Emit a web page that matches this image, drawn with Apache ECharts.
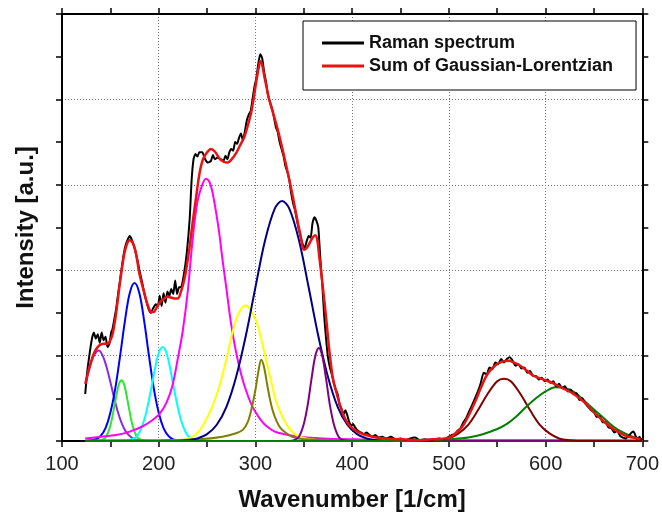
<!DOCTYPE html>
<html>
<head>
<meta charset="utf-8">
<title>Raman spectrum deconvolution</title>
<script src="https://cdn.jsdelivr.net/npm/echarts@6/dist/echarts.min.js"></script>
<style>
  html, body { margin: 0; padding: 0; background: #fff; }
  #chart { width: 662px; height: 517px; }
</style>
</head>
<body>
<div id="chart"></div>
<script>
// Axis ranges and tick layout (wavenumber in 1/cm, intensity in arbitrary units)
const xMin = 100, xMax = 700, xStep = 100;
const yMin = 0, yMax = 5, yStep = 1;

// Measured Raman spectrum [wavenumber, intensity]
const ramanSpectrum = [
  [124,0.55],[126,0.80],[128,0.98],[131,1.20],[133,1.27],[135,1.20],[137,1.25],[139,1.15],
  [141,1.27],[143,1.18],[145,1.22],[147,1.10],[149,1.14],[151,1.28],[152,1.30],[154,1.42],
  [156,1.55],[158,1.72],[160,1.88],[162,2.05],[164,2.20],[166,2.30],[168,2.36],[170,2.40],
  [172,2.36],[175,2.26],[178,2.12],[180,2.00],[183,1.85],[185,1.74],[188,1.60],[190,1.53],
  [192,1.50],[194,1.55],[197,1.60],[199,1.57],[201,1.70],[203,1.58],[205,1.73],[207,1.62],
  [209,1.75],[211,1.70],[213,1.78],[215,1.72],[217,1.88],[219,1.72],[221,1.80],[223,1.80],
  [226,1.95],[229,2.20],[232,2.60],[234,3.05],[236,3.30],[238,3.36],[240,3.33],[242,3.38],
  [245,3.38],[248,3.30],[251,3.26],[254,3.28],[256,3.35],[258,3.30],[261,3.32],[264,3.30],
  [267,3.28],[269,3.34],[271,3.30],[273,3.38],[275,3.42],[277,3.40],[279,3.50],[281,3.48],
  [283,3.55],[285,3.60],[287,3.52],[289,3.62],[291,3.75],[293,3.82],[295,3.86],[297,4.00],
  [299,4.15],[301,4.25],[303,4.42],[305,4.53],[307,4.48],[309,4.32],[311,4.20],[313,4.05],
  [315,3.97],[317,3.90],[319,3.80],[321,3.68],[323,3.62],[325,3.50],[327,3.42],[329,3.34],
  [331,3.22],[333,3.15],[335,3.06],[337,2.90],[339,2.78],[341,2.70],[343,2.58],[345,2.47],
  [347,2.38],[349,2.30],[351,2.26],[353,2.34],[355,2.40],[357,2.38],[359,2.55],[361,2.62],
  [363,2.58],[365,2.50],[367,2.15],[369,1.85],[371,1.48],[373,1.20],[375,0.98],[377,0.86],
  [379,0.78],[381,0.68],[383,0.60],[385,0.55],[387,0.42],[389,0.38],[391,0.31],[393,0.36],
  [395,0.30],[397,0.22],[399,0.18],[401,0.20],[403,0.16],[406,0.12],[409,0.10],[412,0.08],
  [415,0.10],[418,0.07],[421,0.05],[424,0.07],[427,0.04],[431,0.05],[435,0.03],[440,0.05],
  [445,0.02],[450,0.03],[455,0.01],[460,0.03],[465,0.04],[470,0.01],[475,0.02],[480,0.01],
  [485,0.02],[490,0.03],[495,0.02],[500,0.05],[503,0.07],[506,0.08],[509,0.12],[512,0.15],
  [515,0.22],[518,0.27],[521,0.35],[524,0.42],[527,0.50],[530,0.58],[533,0.68],[536,0.80],
  [539,0.78],[542,0.86],[545,0.84],[548,0.92],[551,0.90],[554,0.96],[557,0.92],[560,0.96],
  [563,0.98],[566,0.94],[569,0.88],[572,0.90],[575,0.85],[578,0.86],[581,0.80],[584,0.82],
  [587,0.76],[590,0.76],[593,0.72],[596,0.74],[599,0.70],[602,0.72],[605,0.68],[608,0.70],
  [611,0.64],[614,0.67],[617,0.62],[620,0.64],[623,0.58],[626,0.60],[629,0.55],[632,0.56],
  [635,0.48],[638,0.50],[641,0.44],[644,0.40],[647,0.36],[650,0.34],[653,0.28],[656,0.29],
  [659,0.22],[662,0.22],[665,0.16],[668,0.15],[671,0.10],[674,0.12],[677,0.06],[680,0.04],
  [683,0.03],[686,0.06],[689,0.10],[691,0.11],[693,0.06],[695,0.02],[697,0.05],[699,0.01]
];

// Fitted envelope: sum of the Gaussian-Lorentzian components
const fitSum = [
  [124.3,0.67],[128,0.85],[131.8,0.99],[135,1.07],[138.7,1.12],[143,1.14],[147.3,1.14],
  [150,1.18],[152.5,1.26],[156,1.50],[159.4,1.81],[162,2.02],[164.6,2.20],[167,2.30],
  [169.7,2.35],[172,2.34],[174.9,2.27],[177.5,2.13],[180,1.96],[183.5,1.80],[187,1.65],
  [190,1.55],[192.1,1.51],[194.5,1.51],[197.3,1.55],[201,1.62],[205.9,1.67],[209,1.69],
  [212.8,1.68],[216,1.67],[219.6,1.67],[223,1.75],[226.5,1.89],[229,2.05],[231.7,2.25],
  [235,2.55],[238.6,2.85],[242,3.12],[245.5,3.29],[250,3.38],[254.1,3.42],[258,3.39],
  [262.7,3.31],[267,3.27],[271.3,3.26],[275.5,3.30],[280,3.37],[284,3.46],[288.5,3.56],
  [292,3.69],[295.5,3.84],[298,4.00],[300.6,4.19],[303,4.35],[305.1,4.45],[307,4.40],
  [309.2,4.27],[311.5,4.14],[314.4,3.99],[318,3.85],[321.3,3.72],[325,3.56],[328.1,3.41],
  [331.5,3.24],[335,3.06],[338.5,2.87],[341.9,2.67],[346,2.44],[350.5,2.24],[353,2.26],
  [355.7,2.31],[359,2.38],[361.9,2.41],[364,2.35],[366,2.16],[368.5,1.92],[371.2,1.65],
  [373.8,1.36],[376.3,1.07],[379.8,0.75],[382.5,0.62],[384.9,0.52],[388,0.40],[391.8,0.28],
  [396,0.20],[400.4,0.15],[407,0.10],[414.3,0.07],[425,0.04],[435,0.03],[450,0.02],[469,0.01],
  [485,0.02],[500.3,0.04],[507,0.09],[514,0.17],[521,0.31],[527.9,0.48],[533,0.62],
  [538.2,0.75],[543,0.83],[548.6,0.89],[555,0.93],[562.3,0.94],[567,0.92],[572.6,0.89],
  [580,0.83],[586.4,0.77],[593,0.74],[600.2,0.71],[607,0.68],[614,0.64],[621,0.60],
  [627.7,0.56],[635,0.50],[641.5,0.44],[648,0.36],[655.3,0.28],[662,0.21],[669,0.15],
  [676,0.10],[682.9,0.06],[690,0.04],[698.3,0.02]
];

// Individual fitted bands
const band138 = [
  [124,0.67],[128,0.83],[132,0.98],[136,1.05],[138,1.06],[142,1.00],[146,0.87],[150,0.69],
  [154,0.50],[158,0.33],[162,0.20],[166,0.11],[170,0.06],[175,0.02],[180,0.01],[190,0],[700,0]
];
const band162 = [
  [124,0],[140,0.01],[145,0.04],[150,0.18],[154,0.40],[157,0.58],[159,0.67],[161.5,0.71],
  [164,0.67],[166,0.58],[169,0.40],[173,0.18],[178,0.04],[183,0.01],[190,0],[700,0]
];
const band175 = [
  [124,0],[135,0.02],[140,0.06],[145,0.15],[150,0.33],[155,0.61],[160,0.99],[165,1.40],
  [170,1.73],[175,1.85],[180,1.73],[185,1.40],[190,0.99],[195,0.61],[200,0.33],[205,0.15],
  [210,0.06],[215,0.02],[222,0],[700,0]
];
const band204 = [
  [124,0],[168,0.01],[172,0.02],[176,0.04],[180,0.10],[184,0.21],[188,0.38],[192,0.60],
  [196,0.84],[200,1.03],[204,1.10],[208,1.03],[212,0.84],[216,0.60],[220,0.38],[224,0.21],
  [228,0.10],[232,0.04],[236,0.02],[242,0],[700,0]
];
const band249 = [
  [124,0.03],[140,0.05],[156,0.07],[170,0.11],[183,0.17],[193,0.24],[201,0.32],[208,0.45],
  [214,0.64],[220,0.98],[225,1.30],[230,1.75],[235,2.35],[240,2.80],[245,3.00],[249,3.07],
  [253,3.02],[257,2.83],[262,2.48],[266,2.12],[270,1.78],[275,1.36],[280,1.04],[285,0.79],
  [290,0.60],[295,0.45],[300,0.34],[306,0.24],[312,0.17],[320,0.11],[330,0.08],[345,0.05],
  [370,0.03],[400,0.02],[450,0.01],[550,0.01],[700,0.005]
];
const band290 = [
  [124,0],[225,0.01],[235,0.05],[242,0.12],[249,0.25],[256,0.42],[263,0.65],[270,0.96],
  [276,1.26],[281,1.45],[286,1.56],[290,1.59],[294,1.55],[297,1.49],[301,1.40],[306,1.19],
  [311,0.95],[316,0.71],[321,0.48],[326,0.33],[332,0.20],[337,0.12],[342,0.07],[352,0.03],
  [365,0.01],[380,0],[700,0]
];
const band306 = [
  [124,0.005],[200,0.01],[242,0.02],[266,0.05],[280,0.09],[287,0.13],[292,0.22],[296,0.38],
  [300,0.60],[303,0.81],[306,0.95],[309,0.86],[312,0.67],[315,0.49],[318,0.35],[322,0.23],
  [326,0.15],[332,0.09],[338,0.05],[350,0.02],[400,0.01],[700,0.005]
];
const band328 = [
  [124,0],[220,0],[230,0.01],[240,0.03],[250,0.08],[260,0.19],[270,0.40],[280,0.75],
  [290,1.23],[300,1.80],[310,2.35],[320,2.72],[327.5,2.81],[335,2.72],[345,2.35],[355,1.80],
  [365,1.23],[375,0.75],[385,0.40],[395,0.19],[405,0.08],[415,0.03],[425,0.01],[440,0],[700,0]
];
const band366 = [
  [124,0],[335,0],[340,0.01],[345,0.05],[350,0.20],[354,0.42],[358,0.73],[362,1.00],
  [365.5,1.09],[369,1.00],[373,0.73],[377,0.42],[381,0.20],[386,0.05],[391,0.01],[400,0],[700,0]
];
const band557 = [
  [124,0],[480,0],[490,0.01],[500,0.03],[510,0.09],[520,0.19],[530,0.36],[540,0.55],
  [550,0.70],[557,0.73],[564,0.70],[574,0.55],[584,0.36],[594,0.19],[604,0.09],[614,0.03],
  [624,0.01],[640,0],[700,0]
];
const band612 = [
  [124,0],[460,0],[470,0.01],[490,0.015],[500,0.02],[520,0.04],[535,0.08],[550,0.14],
  [560,0.20],[570,0.29],[580,0.40],[590,0.50],[600,0.58],[610,0.63],[620,0.62],[630,0.57],
  [640,0.47],[650,0.37],[660,0.27],[670,0.17],[680,0.10],[690,0.05],[700,0.02]
];

const bandSeries = [
  { data: band138, color: '#8a2be2' },
  { data: band162, color: '#2ee62e' },
  { data: band175, color: '#0000ff' },
  { data: band204, color: '#00ffff' },
  { data: band249, color: '#ff00ff' },
  { data: band290, color: '#ffff00' },
  { data: band306, color: '#808000' },
  { data: band328, color: '#000080' },
  { data: band366, color: '#800080' },
  { data: band557, color: '#800000' },
  { data: band612, color: '#008000' }
];

const fontFamily = '"Liberation Sans", Arial, Helvetica, sans-serif';
const axisLine = { show: true, onZero: false, lineStyle: { color: '#000', width: 2 } };
const tickStyle = { show: true, inside: false, length: 6, lineStyle: { color: '#000', width: 1.5 } };
const minorTickStyle = { show: true, splitNumber: 2, length: 6, lineStyle: { color: '#000', width: 1.5 } };
const gridLine = { show: true, lineStyle: { color: '#777', width: 1, type: [1, 2] } };

const series = bandSeries.map((b, i) => ({
  name: 'band' + i,
  type: 'line',
  data: b.data,
  smooth: 0.35,
  symbol: 'none',
  lineStyle: { color: b.color, width: 2 },
  itemStyle: { color: b.color },
  z: 2
}));

series.push({
  name: 'Raman spectrum',
  type: 'line',
  data: ramanSpectrum,
  smooth: 0.2,
  symbol: 'none',
  lineStyle: { color: '#000', width: 2 },
  itemStyle: { color: '#000' },
  z: 3
});
series.push({
  name: 'Sum of Gaussian-Lorentzian',
  type: 'line',
  data: fitSum,
  smooth: 0.35,
  symbol: 'none',
  lineStyle: { color: '#ee1111', width: 2.5 },
  itemStyle: { color: '#ee1111' },
  z: 4
});

const chart = echarts.init(document.getElementById('chart'), null, { renderer: 'canvas' });
chart.setOption({
  animation: false,
  backgroundColor: '#fff',
  grid: { left: 62, right: 18, top: 14, bottom: 76, containLabel: false },
  legend: {
    data: ['Raman spectrum', 'Sum of Gaussian-Lorentzian'],
    orient: 'vertical',
    left: 303,
    top: 21,
    padding: [13, 23, 15, 19],
    itemGap: 5,
    itemWidth: 42,
    itemHeight: 3,
    icon: 'rect',
    backgroundColor: '#fff',
    borderColor: '#000',
    borderWidth: 1,
    textStyle: { fontFamily, fontSize: 18, fontWeight: 'bold', color: '#111' }
  },
  xAxis: [
    {
      type: 'value', min: xMin, max: xMax, interval: xStep, position: 'bottom',
      name: 'Wavenumber [1/cm]', nameLocation: 'middle', nameGap: 47,
      nameTextStyle: { fontFamily, fontSize: 24, fontWeight: 'bold', color: '#111' },
      axisLine, axisTick: tickStyle, minorTick: minorTickStyle,
      axisLabel: { fontFamily, fontSize: 20, color: '#222', margin: 13 },
      splitLine: gridLine
    },
    {
      type: 'value', min: xMin, max: xMax, interval: xStep, position: 'top',
      axisLine, axisTick: tickStyle, minorTick: minorTickStyle,
      axisLabel: { show: false }, splitLine: { show: false }
    }
  ],
  yAxis: [
    {
      type: 'value', min: yMin, max: yMax, interval: yStep, position: 'left',
      name: 'Intensity [a.u.]', nameLocation: 'middle', nameGap: 24,
      nameTextStyle: { fontFamily, fontSize: 24, fontWeight: 'bold', color: '#111' },
      axisLine, axisTick: tickStyle, minorTick: minorTickStyle,
      axisLabel: { show: false },
      splitLine: gridLine
    },
    {
      type: 'value', min: yMin, max: yMax, interval: yStep, position: 'right',
      axisLine, axisTick: tickStyle, minorTick: minorTickStyle,
      axisLabel: { show: false }, splitLine: { show: false }
    }
  ],
  series
});
</script>
</body>
</html>
